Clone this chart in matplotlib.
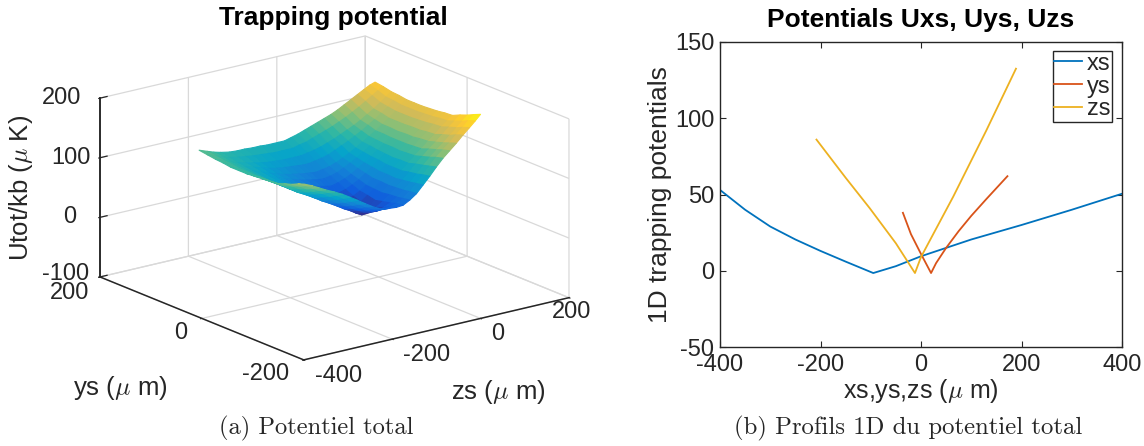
import numpy as np
import matplotlib
matplotlib.use("Agg")
import matplotlib.pyplot as plt
from matplotlib.colors import LinearSegmentedColormap

plt.rcParams['font.family'] = ['Liberation Sans', 'DejaVu Sans']
plt.rcParams['mathtext.fontset'] = 'cm'
plt.rcParams['axes.unicode_minus'] = False

zs_nodes = [-208, -190, -175, -160, -140, -122, -105, -88, -70, -55, -40, -28, -15, 0,
            15, 30, 45, 60, 75, 90, 105, 120, 135, 150, 165, 178, 190]
ys_nodes = [-35, -22, -10, 5, 20, 35, 50, 65, 80, 95, 110, 125, 140, 156, 172]
u_y_m35 = [104, 98, 92, 86, 79, 72, 64, 56, 47, 40, 34, 31, 30, 29, 30, 36, 44, 56, 68, 81, 93, 103, 113, 124, 134, 143, 152]
u_y_m22 = [100, 94, 87, 81, 74, 66, 58, 50, 42, 35, 29, 25, 24, 25, 28, 34, 43, 54, 66, 78, 90, 100, 109, 120, 130, 139, 147]
u_y_m10 = [95, 89, 82, 75, 68, 60, 52, 44, 36, 29, 23, 19, 17, 20, 25, 32, 41, 52, 63, 75, 86, 96, 105, 115, 125, 134, 142]
u_y_5 = [91, 84, 77, 69, 62, 54, 46, 38, 30, 23, 17, 12, 9, 15, 22, 31, 40, 50, 61, 72, 82, 92, 101, 111, 121, 129, 137]
u_y_20 = [86, 79, 71, 63, 55, 47, 39, 32, 24, 17, 11, 5, 0, 9, 19, 29, 39, 48, 58, 68, 78, 87, 97, 106, 116, 124, 131]
u_y_35 = [85, 78, 71, 63, 56, 48, 41, 34, 27, 21, 16, 11, 7, 14, 22, 30, 40, 49, 58, 68, 77, 86, 96, 105, 115, 123, 130]
u_y_50 = [84, 77, 70, 63, 56, 49, 43, 36, 30, 25, 21, 17, 14, 18, 24, 31, 40, 49, 58, 67, 76, 85, 94, 103, 113, 121, 128]
u_y_65 = [83, 77, 70, 64, 57, 51, 45, 39, 34, 30, 26, 23, 21, 24, 29, 35, 43, 51, 60, 68, 77, 85, 94, 103, 112, 120, 127]
u_y_80 = [82, 76, 70, 64, 58, 52, 47, 42, 38, 34, 31, 29, 27, 30, 34, 39, 46, 53, 61, 69, 77, 85, 93, 102, 111, 119, 126]
u_y_95 = [82, 77, 71, 66, 60, 55, 50, 46, 42, 39, 37, 35, 34, 36, 39, 44, 50, 56, 63, 71, 78, 86, 94, 102, 111, 119, 126]
u_y_110 = [82, 77, 72, 67, 62, 57, 53, 49, 46, 44, 42, 41, 40, 42, 44, 48, 53, 59, 65, 72, 79, 86, 94, 102, 111, 119, 126]
u_y_125 = [84, 79, 74, 69, 65, 61, 57, 54, 52, 51, 50, 49, 49, 51, 53, 56, 61, 66, 71, 77, 83, 90, 97, 105, 113, 121, 128]
u_y_140 = [85, 80, 75, 71, 67, 64, 61, 59, 58, 57, 57, 57, 57, 59, 61, 64, 68, 72, 77, 82, 87, 93, 100, 107, 115, 122, 129]
u_y_156 = [87, 82, 78, 74, 71, 69, 67, 66, 65, 64, 64, 64, 64, 67, 69, 73, 77, 81, 85, 90, 95, 101, 107, 114, 121, 127, 132]
u_y_172 = [89, 84, 80, 77, 74, 73, 73, 72, 72, 71, 71, 71, 71, 74, 77, 81, 85, 89, 93, 97, 102, 108, 114, 120, 126, 131, 134]

zs_ticks = [-400, -200, 0, 200]
ys_ticks = [-200, 0, 200]
u_ticks = [-100, 0, 100, 200]

# 1D profiles
xs_x = [-400, -350, -300, -250, -200, -150, -95, -50, 0, 50, 100, 200, 300, 400]
xs_u = [53, 40, 29, 20.5, 13, 6, -1.5, 3, 9.5, 15, 20.5, 30, 40, 50.5]
ys_x = [-36, -20, 0, 20, 30, 50, 75, 100, 130, 172]
ys_u = [38, 24, 11, -1.5, 5, 15, 26, 36, 47, 62]
zs_x = [-208, -150, -102, -50, -12, 0, 64, 130, 189]
zs_u = [86, 61, 41, 18, -1.5, 9, 48.5, 92, 132.5]

parula = LinearSegmentedColormap.from_list("parula", [
    "#352a87", "#0f5cdd", "#1481d6", "#06a4ca", "#2eb7a4",
    "#87bf77", "#d1bb59", "#fec832", "#f9fb0e"])

W, H = 1144, 446
dark = "#262626"
fig = plt.figure(figsize=(W / 100, H / 100), dpi=100)


def px_text(x, y, s, **kw):
    # text placed in picture pixels from the top-left corner
    kw.setdefault("ha", "center")
    kw.setdefault("va", "center")
    kw.setdefault("color", dark)
    fig.text(x / W, 1 - y / H, s, **kw)


# ---- left: 3D surface ----
S = 494.8
ax3 = fig.add_axes([80.4 / W, -6 / H, S / W, S / H], projection="3d",
                   proj_type="ortho")
ax3.view_init(elev=18, azim=232.8)
ax3.set_box_aspect((333, 337, 188))
ax3.patch.set_alpha(0)

X, Y = np.meshgrid(zs_nodes, ys_nodes)
Z = np.array([u_y_m35, u_y_m22, u_y_m10, u_y_5, u_y_20, u_y_35, u_y_50, u_y_65, u_y_80,
              u_y_95, u_y_110, u_y_125, u_y_140, u_y_156, u_y_172], dtype=float)
surf = ax3.plot_surface(X, Y, Z, cmap=parula, vmin=4, vmax=152, rcount=15, ccount=27,
                        shade=False, linewidth=0.8, antialiased=True)
surf.set_edgecolor("face")

ax3.set_xlim(-400, 200)
ax3.set_ylim(-200, 200)
ax3.set_zlim(-100, 200)
ax3.set_xticks(zs_ticks)
ax3.set_yticks(ys_ticks)
ax3.set_zticks(u_ticks)
ax3.set_xticklabels([])
ax3.set_yticklabels([])
ax3.set_zticklabels([])
for axis in (ax3.xaxis, ax3.yaxis, ax3.zaxis):
    axis.set_pane_color((1, 1, 1, 0))
    axis.pane.set_edgecolor("#d9d9d9")
    axis.line.set_color(dark)
    axis.line.set_linewidth(1.1)
    axis._axinfo["grid"].update(color="#d9d9d9", linewidth=0.9)
    axis._axinfo["tick"].update(inward_factor=0.06, outward_factor=0.0)
ax3.tick_params(colors=dark)
ax3.zaxis.set_ticks_position("upper")
# dark vertical axis on the left corner of the box, with its short ticks
ax3.plot([-400, -400], [200, 200], [-100, 200], color=dark, lw=1.1)
for u in u_ticks:
    ax3.plot([-400, -384], [200, 200], [u, u], color=dark, lw=0.9)

# tick labels sit where the reference has them, not on mplot3d's offsets
for v, x, y in zip(u_ticks, [66, 70, 71, 62], [274, 217, 158, 98]):
    px_text(x, y, str(v), fontsize=17)
for v, x, y in zip(ys_ticks, [266, 181, 70], [374, 333, 293]):
    px_text(x, y, str(v), fontsize=17)
for v, x, y in zip(zs_ticks, [339, 427, 498, 572], [376, 355, 334, 312]):
    px_text(x, y, str(v), fontsize=17)

px_text(333, 18, "Trapping potential", fontsize=19, fontweight="bold", color="black")
px_text(21, 188, r"Utot/kb ($\mu$ K)", fontsize=18.5, rotation=90)
px_text(120, 388, r"ys ($\mu$ m)", fontsize=18.5)
px_text(498, 392, r"zs ($\mu$ m)", fontsize=18.5)

# ---- right: profiles ----
ax = fig.add_axes([720 / W, 1 - 347 / H, 402 / W, 305 / H])
ax.plot(xs_x, xs_u, color="#0072BD", lw=1.3, label="xs")
ax.plot(ys_x, ys_u, color="#D95319", lw=1.3, label="ys")
ax.plot(zs_x, zs_u, color="#EDB120", lw=1.3, label="zs")
ax.set_xlim(-400, 400)
ax.set_ylim(-50, 150)
ax.set_xticks([-400, -200, 0, 200, 400])
ax.set_yticks([-50, 0, 50, 100, 150])
ax.tick_params(direction="in", length=4, width=0.8, top=True, right=True,
               labelsize=17, colors=dark)
ax.tick_params(axis="x", pad=5)
ax.tick_params(axis="y", pad=4)
for side in ax.spines.values():
    side.set_color(dark)
    side.set_linewidth(1.0)
ax.set_title("Potentials Uxs, Uys, Uzs", fontsize=19, fontweight="bold", pad=11)
ax.set_xlabel(r"xs,ys,zs ($\mu$ m)", fontsize=18, color=dark, labelpad=1)
ax.set_ylabel("1D trapping potentials", fontsize=19, color=dark, labelpad=2)
ax.legend(loc="upper right", bbox_to_anchor=(0.9755, 0.97), fontsize=17, frameon=True,
          fancybox=False, framealpha=1, edgecolor=dark, borderaxespad=0, borderpad=0.06,
          labelspacing=0.04, handlelength=1.2, handletextpad=0.2,
          labelcolor=dark)

# captions
px_text(316, 428, "(a) Potentiel total", family="cmr10", fontsize=17.6)
px_text(908, 428, "(b) Profils 1D du potentiel total", family="cmr10", fontsize=17.8)

fig.savefig("out.png", dpi=100)
